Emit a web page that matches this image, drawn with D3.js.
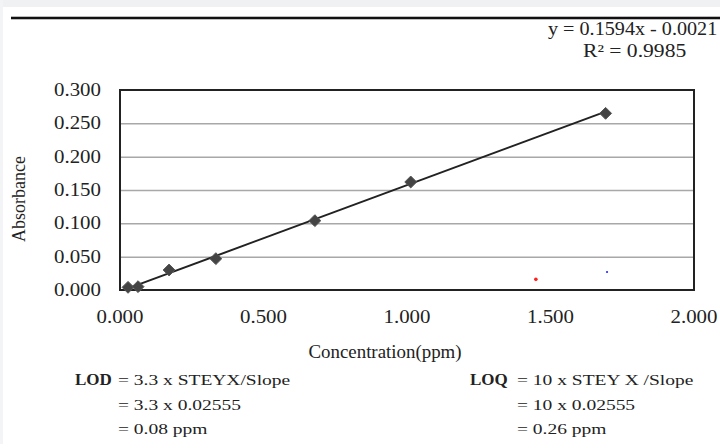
<!DOCTYPE html>
<html>
<head>
<meta charset="utf-8">
<script src="https://cdn.jsdelivr.net/npm/d3@7"></script>
<style>
  body { margin: 0; background: #fff; }
  svg { display: block; font-family: "Liberation Serif", "Times New Roman", serif; }
</style>
</head>
<body>
<svg id="chart" width="720" height="444"></svg>
<script>
// calibration points
const concentration = [0.028, 0.063, 0.171, 0.334, 0.679, 1.013, 1.692];
const absorbance = [0.004, 0.005, 0.030, 0.047, 0.104, 0.162, 0.265];
// stray coloured dots in the plot
const strayX = [1.449, 1.697];
const strayY = [0.016, 0.027];
const strayColors = ["#ff2020", "#2030ff"];
// fit
const slope = 0.1594, intercept = -0.0021;
const yTicks = [0, 0.05, 0.1, 0.15, 0.2, 0.25, 0.3];
const xTicks = [0, 0.5, 1, 1.5, 2];
const lodLines = ["= 3.3 x STEYX/Slope", "= 3.3 x 0.02555", "= 0.08 ppm"];
const loqLines = ["= 10 x STEY X /Slope", "= 10 x 0.02555", "= 0.26 ppm"];

const svg = d3.select("#chart");
const m = {left: 120, top: 90, right: 694, bottom: 290};

// page frame bits
svg.append("rect").attr("x", 0).attr("y", 0).attr("width", 720).attr("height", 7).attr("fill", "#f0f1f3");
svg.append("rect").attr("x", 0).attr("y", 0).attr("width", 3).attr("height", 444).attr("fill", "#f3f4f6");
svg.append("line").attr("x1", 11).attr("x2", 720).attr("y1", 18).attr("y2", 18)
    .attr("stroke", "#bbb").attr("stroke-width", 4);
svg.append("line").attr("x1", 11).attr("x2", 720).attr("y1", 18).attr("y2", 18)
    .attr("stroke", "#111").attr("stroke-width", 2);

const x = d3.scaleLinear().domain([0, 2]).range([m.left, m.right]);
const y = d3.scaleLinear().domain([0, 0.3]).range([m.bottom, m.top]);

// stretched text helper (the picture is widened horizontally)
function label(tx, ty, str, size, sx, anchor, weight) {
    const g = svg.append("g").attr("transform", `translate(${tx},${ty}) scale(${sx},1)`);
    return g.append("text").text(str)
        .attr("font-size", size)
        .attr("text-anchor", anchor || "start")
        .attr("font-weight", weight || "normal")
        .attr("fill", "#222");
}

// gridlines
svg.append("g")
    .attr("transform", `translate(${m.left},0)`)
    .call(d3.axisLeft(y).tickValues(yTicks.slice(1, -1)).tickSize(-(m.right - m.left)).tickFormat(""))
    .call(g => g.select(".domain").remove())
    .call(g => g.selectAll("line").attr("stroke", "#a8a8a8").attr("stroke-width", 1.5));

// plot border
svg.append("rect")
    .attr("x", m.left).attr("y", m.top)
    .attr("width", m.right - m.left).attr("height", m.bottom - m.top)
    .attr("fill", "none").attr("stroke", "#222").attr("stroke-width", 2);

// tick labels
yTicks.forEach(v => label(101, y(v) + 6, d3.format(".3f")(v), 19, 1.1, "end"));
xTicks.forEach(v => label(x(v), 323, d3.format(".3f")(v), 19, 1.1, "middle"));

// trendline
const xMin = d3.min(concentration), xMax = d3.max(concentration);
svg.append("line")
    .attr("x1", x(xMin)).attr("y1", y(slope * xMin + intercept))
    .attr("x2", x(xMax)).attr("y2", y(slope * xMax + intercept))
    .attr("stroke", "#222").attr("stroke-width", 2);

// markers
svg.append("g").selectAll("path")
    .data(concentration.map((c, i) => [c, absorbance[i]]))
    .join("path")
    .attr("d", d3.symbol(d3.symbolDiamond2, 90))
    .attr("transform", d => `translate(${x(d[0])},${y(d[1])})`)
    .attr("fill", "#444").attr("stroke", "#555").attr("stroke-width", 1);

svg.append("g").selectAll("circle")
    .data(strayX.map((v, i) => [v, strayY[i], strayColors[i]]))
    .join("circle")
    .attr("cx", d => x(d[0])).attr("cy", d => y(d[1]))
    .attr("r", (d, i) => i === 0 ? 1.8 : 1.1)
    .attr("fill", d => d[2]);

// axis titles
svg.append("text").text("Absorbance")
    .attr("transform", "translate(25,199) rotate(-90)")
    .attr("text-anchor", "middle").attr("font-size", 18).attr("fill", "#222");
label(385, 358, "Concentration(ppm)", 18, 1.05, "middle");

// equation
label(548, 35, "y = 0.1594x - 0.0021", 18, 1.12, "start");
label(583, 57, "R² = 0.9985", 18, 1.2, "start");

// LOD / LOQ notes
label(75, 385, "LOD", 17, 1.0, "start", "bold");
label(470, 385, "LOQ", 17, 1.0, "start", "bold");
lodLines.forEach((s, i) => label(118, 385 + i * 24.5, s, 15, 1.3, "start"));
loqLines.forEach((s, i) => label(517, 385 + i * 24.5, s, 15, 1.3, "start"));
</script>
</body>
</html>
